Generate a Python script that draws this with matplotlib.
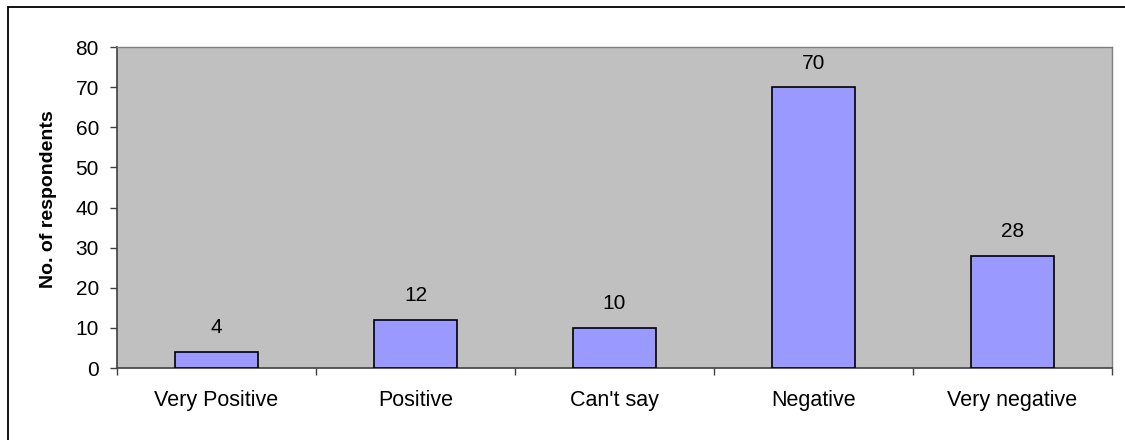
import matplotlib
matplotlib.use("Agg")
import matplotlib.pyplot as plt
from matplotlib.patches import Rectangle
import numpy as np

plt.rcParams['font.family'] = ['Liberation Sans', 'DejaVu Sans']

categories = ['Very Positive', 'Positive', "Can't say", 'Negative', 'Very negative']
counts = [4, 12, 10, 70, 28]
yticks = [0, 10, 20, 30, 40, 50, 60, 70, 80]

W, H = 1125, 440
fig = plt.figure(figsize=(W / 100, H / 100), dpi=100)

# outer chart border (runs off right and bottom edge)
fig.patches.append(Rectangle((8 / W, -0.1), 1.2, 1 - 7 / H + 0.1,
                             transform=fig.transFigure, fill=False,
                             edgecolor='black', linewidth=1.3))

left, right, top, bottom = 117, 1112, 47, 368
ax = fig.add_axes([left / W, 1 - bottom / H, (right - left) / W, (bottom - top) / H])
ax.set_facecolor('#C0C0C0')

x = np.arange(len(categories))
ax.bar(x, counts, width=0.42, color='#9999FF', edgecolor='black', linewidth=1.2, zorder=3)
for xi, v in zip(x, counts):
    ax.annotate(str(v), (xi, v), xytext=(0, 10.5), textcoords='offset points',
                ha='center', va='bottom', fontsize=15)

ax.set_xlim(-0.5, len(categories) - 0.5)
ax.set_ylim(0, 80)
ax.set_yticks(yticks)
ax.set_xticks(x)
ax.set_xticklabels(categories, fontsize=15.5)
ax.set_xticks(np.arange(-0.5, len(categories)), minor=True)
ax.tick_params(axis='x', which='major', length=0, pad=15.5)
ax.tick_params(axis='x', which='minor', length=5, width=1, color='#404040')
ax.tick_params(axis='y', length=5, width=1, color='#404040', labelsize=15, pad=8)

for s in ['left', 'bottom']:
    ax.spines[s].set_color('#404040')
    ax.spines[s].set_linewidth(1.2)
for s in ['top', 'right']:
    ax.spines[s].set_color('#808080')
    ax.spines[s].set_linewidth(1.0)

ax.set_ylabel('No. of respondents', fontsize=14, fontweight='bold')
ax.yaxis.set_label_coords(-0.0603, 0.526)

fig.savefig('out.png', dpi=100)
